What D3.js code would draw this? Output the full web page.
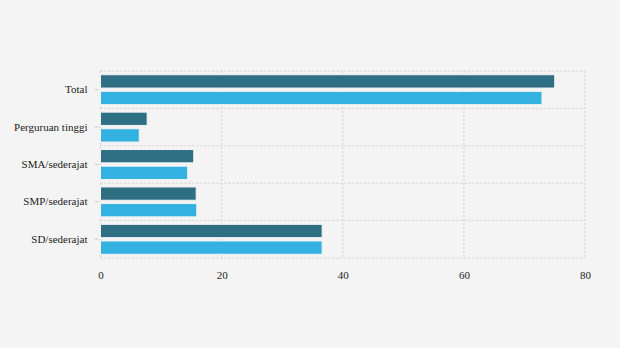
<!DOCTYPE html>
<html><head><meta charset="utf-8">
<script src="https://cdn.jsdelivr.net/npm/d3@7"></script>
<style>
html,body{margin:0;padding:0;background:#f4f4f4;}
svg{display:block;}
</style></head>
<body><svg id="chart" width="620" height="348"></svg>
<script>
const categories = ["Total","Perguruan tinggi","SMA/sederajat","SMP/sederajat","SD/sederajat"];
const seriesNames = ["A","B"];
const seriesA = [75.0, 7.7, 15.4, 15.8, 36.6];
const seriesB = [72.9, 6.4, 14.4, 15.9, 36.6];
const xTicks = [0,20,40,60,80];
const colors = ["#2f6f84","#33b1e1"];

(function(){
const svg = d3.select("#chart");
const m = {left:100.5, right:35, top:71, bottom:90};
const W = 620, H = 348;
const x = d3.scaleLinear().domain([0,80]).range([m.left, W-m.right]);
const y0 = d3.scaleBand().domain(categories).range([m.top, H-m.bottom]).paddingInner(0.2).paddingOuter(0.1);
const y1 = d3.scaleBand().domain(seriesNames).range([0, y0.bandwidth()]).paddingInner(0.2);
const step = y0.step();
const plotTop = m.top, plotBottom = H-m.bottom;

const grid = svg.append("g").attr("stroke","#d9d9d9").attr("stroke-width",1.5).attr("stroke-dasharray","2,2");
xTicks.forEach(t=>{
  grid.append("line").attr("x1",x(t)).attr("x2",x(t)).attr("y1",plotTop).attr("y2",plotBottom);
});
for(let i=0;i<=categories.length;i++){
  const yy = plotTop + i*step;
  grid.append("line").attr("x1",x(0)).attr("x2",x(80)).attr("y1",yy).attr("y2",yy);
}

const data = categories.map((c,i)=>({c, vals:[seriesA[i],seriesB[i]]}));
const g = svg.append("g");
data.forEach(d=>{
  d.vals.forEach((v,j)=>{
    g.append("rect")
      .attr("x", x(0))
      .attr("y", y0(d.c)+y1(seriesNames[j]))
      .attr("width", x(v)-x(0))
      .attr("height", y1.bandwidth())
      .attr("fill", colors[j])
      .attr("stroke","#f4f4f4").attr("stroke-width",1);
  });
});

const ya = svg.append("g").attr("transform",`translate(${x(0)-2},0)`)
  .call(d3.axisLeft(y0).tickSize(4).tickPadding(7));
ya.select(".domain").remove();
ya.selectAll(".tick line").attr("stroke","#ccc");
ya.selectAll("text").attr("font-family","'Liberation Serif', serif").attr("font-size",11).attr("fill","#222");

const xa = svg.append("g").attr("transform",`translate(0,${plotBottom+6})`)
  .call(d3.axisBottom(x).tickValues(xTicks).tickSize(0).tickPadding(7).tickFormat(d3.format("d")));
xa.select(".domain").remove();
xa.selectAll("text").attr("font-family","'Liberation Serif', serif").attr("font-size",11).attr("fill","#222");
})();
</script>
</body></html>
